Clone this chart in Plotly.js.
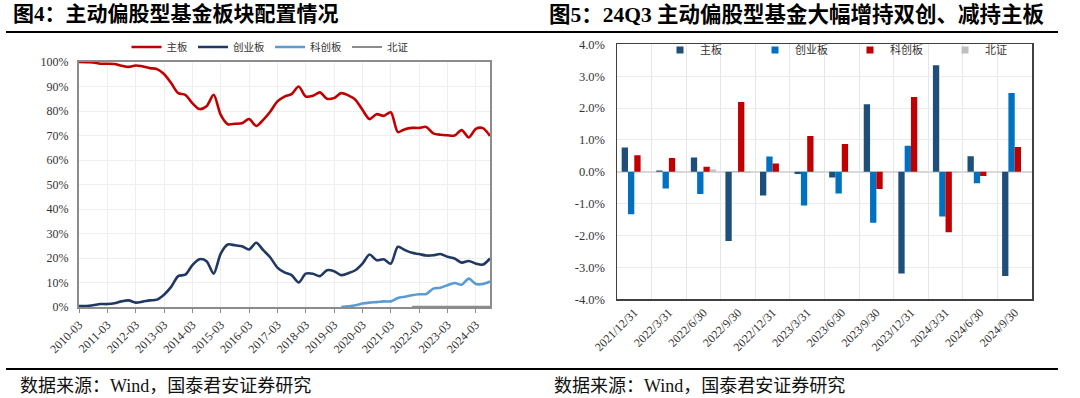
<!DOCTYPE html>
<html><head><meta charset="utf-8">
<script src="https://cdn.plot.ly/plotly-3.0.1.min.js"></script>
<style>html,body{margin:0;padding:0;background:#fff;}#chart{width:1080px;height:398px;}</style>
</head><body><div id="chart"></div>
<script>
// ---- Figure 4: sector allocation (%), quarterly ----
const quarters = ["2010-03","2010-06","2010-09","2010-12","2011-03","2011-06","2011-09","2011-12",
"2012-03","2012-06","2012-09","2012-12","2013-03","2013-06","2013-09","2013-12",
"2014-03","2014-06","2014-09","2014-12","2015-03","2015-06","2015-09","2015-12",
"2016-03","2016-06","2016-09","2016-12","2017-03","2017-06","2017-09","2017-12",
"2018-03","2018-06","2018-09","2018-12","2019-03","2019-06","2019-09","2019-12",
"2020-03","2020-06","2020-09","2020-12","2021-03","2021-06","2021-09","2021-12",
"2022-03","2022-06","2022-09","2022-12","2023-03","2023-06","2023-09","2023-12",
"2024-03","2024-06","2024-09"];
const mainBoard = [100,99.9,99.8,99.3,99.3,99.2,98.5,98.0,98.6,98.2,97.5,97.1,95.1,91.4,87.3,86.6,
83.2,80.8,81.9,86.6,78.4,74.6,74.8,75.0,76.7,73.9,76.4,79.8,83.9,85.9,86.9,90.0,85.9,86.2,87.6,85.0,
85.3,87.3,86.4,84.6,80.5,76.7,78.7,78.0,79.5,71.4,72.6,73.1,73.1,73.5,70.9,70.3,70.1,70.0,72.2,69.2,
72.7,73.0,69.8];
const chiNext = [0.4,0.4,0.7,1.2,1.2,1.5,2.3,2.7,1.8,2.2,2.7,3.0,5.0,8.2,12.6,13.2,17.1,19.5,18.7,13.6,
21.8,25.5,25.2,24.8,23.5,26.2,23.2,20.2,16.1,14.1,13.0,10.0,13.6,13.6,12.6,15.0,14.6,13.0,13.8,
15.0,17.7,21.4,19.1,19.5,17.7,24.6,23.2,22.1,21.6,21.0,21.1,21.6,20.5,19.8,18.1,18.8,17.7,17.3,19.8];
const starQuarters = ["2019-06","2019-09","2019-12","2020-03","2020-06","2020-09","2020-12","2021-03",
"2021-06","2021-09","2021-12","2022-03","2022-06","2022-09","2022-12","2023-03","2023-06","2023-09",
"2023-12","2024-03","2024-06","2024-09"];
const starMarket = [0,0.3,0.7,1.4,1.8,2.0,2.3,2.3,3.7,4.2,4.8,5.2,5.3,7.5,7.9,8.9,9.8,9.1,11.6,9.4,9.4,10.4];
const bseQuarters = ["2021-12","2022-03","2022-06","2022-09","2022-12","2023-03","2023-06","2023-09",
"2023-12","2024-03","2024-06","2024-09"];
const bse = [0.1,0.1,0.1,0.1,0.1,0.1,0.1,0.1,0.1,0.1,0.1,0.1];
const yearTicks = ["2010-03","2011-03","2012-03","2013-03","2014-03","2015-03","2016-03","2017-03",
"2018-03","2019-03","2020-03","2021-03","2022-03","2023-03","2024-03"];
const leftYTicks = [0,10,20,30,40,50,60,70,80,90,100];
const leftYText = ["0%","10%","20%","30%","40%","50%","60%","70%","80%","90%","100%"];

// ---- Figure 5: quarterly change (%) ----
const periods = ["2021/12/31","2022/3/31","2022/6/30","2022/9/30","2022/12/31","2023/3/31",
"2023/6/30","2023/9/30","2023/12/31","2024/3/31","2024/6/30","2024/9/30"];
const dMain    = [0.76,0.04,0.45,-2.17,-0.74,-0.07,-0.18,2.12,-3.19,3.34,0.49,-3.27];
const dChiNext = [-1.33,-0.52,-0.70,-0.01,0.48,-1.06,-0.68,-1.60,0.82,-1.40,-0.36,2.47];
const dStar    = [0.52,0.43,0.16,2.19,0.26,1.12,0.87,-0.54,2.35,-1.90,-0.13,0.78];
const dBse     = [0.01,0.01,0.07,-0.03,0.00,0.00,0.00,0.00,0.00,-0.02,0.00,0.00];
const rightYTicks = [-4,-3,-2,-1,0,1,2,3,4];
const rightYText = ["-4.0%","-3.0%","-2.0%","-1.0%","0.0%","1.0%","2.0%","3.0%","4.0%"];

const barNames = ["主板","创业板","科创板","北证"];
const barColors = ["#1F4E79","#0070C0","#C00000","#BFBFBF"];
const barSeries = [dMain, dChiNext, dStar, dBse];

const FONT = "Liberation Serif, Noto Sans CJK SC, serif";
const CJK = "Liberation Serif, Noto Sans CJK SC, sans-serif";

const lw = 2.6;
const traces = [
  {x: quarters, y: mainBoard, name: "主板", type: "scatter", mode: "lines",
   line: {color: "#C00000", width: lw, shape: "spline", smoothing: 0.8}, xaxis: "x", yaxis: "y", legend: "legend"},
  {x: quarters, y: chiNext, name: "创业板", type: "scatter", mode: "lines",
   line: {color: "#203864", width: lw, shape: "spline", smoothing: 0.8}, xaxis: "x", yaxis: "y", legend: "legend"},
  {x: starQuarters, y: starMarket, name: "科创板", type: "scatter", mode: "lines",
   line: {color: "#5B9BD5", width: lw, shape: "spline", smoothing: 0.8}, xaxis: "x", yaxis: "y", legend: "legend"},
  {x: bseQuarters, y: bse, name: "北证", type: "scatter", mode: "lines",
   line: {color: "#8c8c8c", width: 2, shape: "spline", smoothing: 0.8}, xaxis: "x", yaxis: "y", legend: "legend"}
];
barSeries.forEach((vals, i) => {
  traces.push({x: periods, y: vals, name: barNames[i], type: "bar", marker: {color: barColors[i]},
    xaxis: "x2", yaxis: "y2", showlegend: false, legend: "legend2"});
});
// legend entries (small square keys) for the bar chart
barNames.forEach((n, i) => {
  traces.push({x: [null], y: [null], name: n, type: "scatter", mode: "markers",
    marker: {symbol: "square", size: 7, color: barColors[i]},
    xaxis: "x2", yaxis: "y2", legend: "legend2"});
});

const W = 1080, H = 398;
const px = v => v / W, py = v => 1 - v / H;

const layout = {
  width: W, height: H,
  margin: {l: 0, r: 0, t: 0, b: 0},
  paper_bgcolor: "#ffffff", plot_bgcolor: "#ffffff",
  font: {family: FONT, color: "#333333", size: 12},
  barmode: "group", bargap: 0.27, bargroupgap: 0,
  showlegend: true,
  xaxis: {domain: [px(79), px(490)], anchor: "y", type: "category", range: [0, quarters.length - 1],
    tickmode: "array", tickvals: yearTicks, ticktext: yearTicks, tickangle: -45,
    tickfont: {family: FONT, size: 12, color: "#333"},
    showgrid: true, gridcolor: "#eeeeee", gridwidth: 1,
    showline: true, linecolor: "#8c8c8c", linewidth: 2, mirror: true,
    ticks: "outside", ticklen: 4, tickcolor: "#8c8c8c", zeroline: false, fixedrange: true},
  yaxis: {domain: [py(307), py(62)], anchor: "x", range: [0, 100],
    tickmode: "array", tickvals: leftYTicks, ticktext: leftYText,
    tickfont: {family: FONT, size: 12, color: "#333"},
    showgrid: true, gridcolor: "#eeeeee", gridwidth: 1,
    showline: true, linecolor: "#8c8c8c", linewidth: 2, mirror: true,
    ticks: "", ticklabelstandoff: 6, zeroline: false, fixedrange: true},
  xaxis2: {domain: [px(617), px(1032)], anchor: "y2", type: "category",
    tickson: "boundaries", tickangle: -45,
    tickfont: {family: FONT, size: 12, color: "#333"},
    showgrid: true, gridcolor: "#e6e6e6", gridwidth: 1,
    showline: true, linecolor: "#404040", linewidth: 1.5, mirror: true,
    ticks: "", zeroline: false, fixedrange: true},
  yaxis2: {domain: [py(299.3), py(44.3)], anchor: "x2", range: [-4, 4],
    tickmode: "array", tickvals: rightYTicks, ticktext: rightYText,
    tickfont: {family: FONT, size: 12.5, color: "#333"},
    showgrid: true, gridcolor: "#ececec", gridwidth: 1,
    showline: true, linecolor: "#404040", linewidth: 1.5, mirror: true,
    zeroline: true, zerolinecolor: "#d9d9d9", zerolinewidth: 2,
    ticks: "", ticklabelstandoff: 8, fixedrange: true},
  legend: {orientation: "h", x: px(270), xanchor: "center", y: py(47), yanchor: "middle",
    font: {family: CJK, size: 10.5, color: "#333"}, bgcolor: "rgba(0,0,0,0)", itemwidth: 30,
    traceorder: "normal"},
  legend2: {orientation: "h", x: px(660), xanchor: "left", y: py(50), yanchor: "middle",
    font: {family: CJK, size: 11, color: "#333"}, bgcolor: "rgba(0,0,0,0)",
    entrywidth: 50, entrywidthmode: "pixels", traceorder: "normal", itemwidth: 30},
  shapes: [
    {type: "line", xref: "paper", yref: "paper", x0: px(6), x1: px(1058), y0: py(32), y1: py(32),
     line: {color: "#000", width: 2}},
    {type: "line", xref: "paper", yref: "paper", x0: px(6), x1: px(1058), y0: py(369), y1: py(369),
     line: {color: "#000", width: 2}}
  ],
  annotations: [
    {text: "<b>图4：主动偏股型基金板块配置情况</b>", xref: "paper", yref: "paper", x: px(11), y: py(14),
     xanchor: "left", yanchor: "middle", showarrow: false, font: {family: CJK, size: 21, color: "#000"}},
    {text: "<b>图5：24Q3 主动偏股型基金大幅增持双创、减持主板</b>", xref: "paper", yref: "paper", x: px(547), y: py(14),
     xanchor: "left", yanchor: "middle", showarrow: false, font: {family: CJK, size: 21.5, color: "#000"}},
    {text: "数据来源：Wind，国泰君安证券研究", xref: "paper", yref: "paper", x: px(18), y: py(386),
     xanchor: "left", yanchor: "middle", showarrow: false, font: {family: CJK, size: 18, color: "#111"}},
    {text: "数据来源：Wind，国泰君安证券研究", xref: "paper", yref: "paper", x: px(552), y: py(386),
     xanchor: "left", yanchor: "middle", showarrow: false, font: {family: CJK, size: 18, color: "#111"}}
  ]
};

Plotly.newPlot("chart", traces, layout, {displayModeBar: false, staticPlot: true});
</script></body></html>
